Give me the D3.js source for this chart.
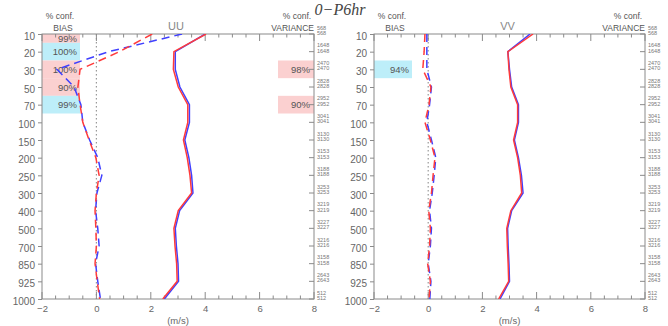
<!DOCTYPE html>
<html><head><meta charset="utf-8">
<script src="https://cdn.jsdelivr.net/npm/d3@7"></script>
<style>body{margin:0;background:#fff}svg{display:block}</style>
</head><body>
<svg id="c" width="668" height="326"></svg>
<script>
const title = "0\u2212P6hr";
const levels = ["10","20","30","50","70","100","150","200","250","300","400","500","700","850","925","1000"];
const countsTop = [568,1648,2470,2828,2952,3041,3130,3153,3188,3253,3219,3227,3216,3158,2643,512];
const countsBot = [568,1648,2470,2828,2952,3041,3130,3153,3188,3253,3219,3227,3216,3158,2643,512];
const xTicks = [-2,0,2,4,6,8];

const uuStdRed  = [4.03,2.85,2.83,3.01,3.36,3.36,3.20,3.34,3.44,3.50,3.01,2.85,2.89,2.95,2.97,2.44];
const uuStdBlue = [4.00,2.90,2.90,3.07,3.42,3.42,3.25,3.40,3.50,3.55,3.06,2.90,2.94,3.00,3.02,2.50];
const uuBiasRed  = [2.05,0.85,-0.60,-0.68,-0.60,-0.50,-0.27,-0.02,0.10,0.00,-0.05,-0.02,0.00,-0.05,0.03,0.12];
const uuBiasBlue = [3.15,0.45,-1.45,-0.82,-0.57,-0.50,-0.25,0.05,0.20,0.02,-0.03,0.05,0.10,-0.03,0.05,0.15];

const vvStdRed  = [3.87,2.94,2.98,3.05,3.30,3.30,3.15,3.30,3.40,3.45,3.05,2.90,2.92,2.95,2.97,2.60];
const vvStdBlue = [3.76,2.94,3.00,3.08,3.33,3.33,3.18,3.33,3.44,3.50,3.08,2.93,2.95,2.98,3.00,2.65];
const vvBiasRed  = [-0.12,-0.15,-0.20,0.10,0.03,-0.12,0.08,0.25,0.18,0.12,0.02,0.08,0.05,-0.02,0.08,0.03];
const vvBiasBlue = [-0.05,-0.05,-0.05,0.12,0.05,-0.05,0.12,0.28,0.22,0.15,0.05,0.12,0.08,0.00,0.10,0.06];

// confidence boxes: level, label, sign
const uuBiasConf = [["10","99%","pos"],["20","100%","neg"],["30","100%","pos"],["50","90%","pos"],["70","99%","neg"]];
const uuVarConf  = [["30","98%","pos"],["70","90%","pos"]];
const vvBiasConf = [["30","94%","neg"]];
const vvVarConf  = [];

const panels = [
  {name:"UU", x0:42, x1:314, stdR:uuStdRed, stdB:uuStdBlue, biasR:uuBiasRed, biasB:uuBiasBlue, bc:uuBiasConf, vc:uuVarConf},
  {name:"VV", x0:374, x1:645, stdR:vvStdRed, stdB:vvStdBlue, biasR:vvBiasRed, biasB:vvBiasBlue, bc:vvBiasConf, vc:vvVarConf}
];

const svg = d3.select("#c");
const yTop = 34, yBot = 299;
const y = d3.scalePoint().domain(levels).range([yTop, yBot]);
const step = y.step();
const fill = {pos:"#fbd0d0", neg:"#bdeef9"};
const axisCol = "#8a8a8a", txtCol = "#666";
const font = "Liberation Sans, Arial, sans-serif";

svg.append("text").attr("x",340).attr("y",15).attr("text-anchor","middle")
  .attr("font-family","Liberation Serif, Times New Roman, serif").attr("font-style","italic")
  .attr("font-size",16).attr("fill","#444").text(title);

panels.forEach(p => {
  const x = d3.scaleLinear().domain([-2,8]).range([p.x0, p.x1]);
  const g = svg.append("g");
  const box = (b, bx, bw, tx) => {
    const yc = y(b[0]);
    const y0 = Math.max(yTop, yc - step/2), y1 = Math.min(yBot, yc + step/2);
    g.append("rect").attr("x",bx).attr("y",y0).attr("width",bw).attr("height",y1-y0).attr("fill",fill[b[2]]);
    g.append("text").attr("x",tx).attr("y",(y0+y1)/2+3.5).attr("text-anchor","end")
      .attr("font-family",font).attr("font-size",9.5).attr("fill","#555").text(b[1]);
  };
  p.bc.forEach(b => box(b, p.x0, 38, p.x0+35));
  p.vc.forEach(b => box(b, p.x1-36, 36, p.x1-4));
  g.append("line").attr("x1",x(0)).attr("x2",x(0)).attr("y1",yTop).attr("y2",yBot)
    .attr("stroke","#999").attr("stroke-width",1.2).attr("stroke-dasharray","1.5,2.5");
  g.append("rect").attr("x",p.x0).attr("y",yTop).attr("width",p.x1-p.x0).attr("height",yBot-yTop)
    .attr("fill","none").attr("stroke",axisCol).attr("stroke-width",1);
  const minor = d3.range(-2,8.01,0.5);
  minor.forEach(v => {
    const isMajor = Math.abs(v/2 - Math.round(v/2)) < 1e-6;
    const len = isMajor ? 7 : 3.5;
    g.append("line").attr("x1",x(v)).attr("x2",x(v)).attr("y1",yBot).attr("y2",yBot-len).attr("stroke",axisCol);
    g.append("line").attr("x1",x(v)).attr("x2",x(v)).attr("y1",yTop).attr("y2",yTop+len).attr("stroke",axisCol);
  });
  const xa = d3.axisBottom(x).tickValues(xTicks).tickSize(0).tickPadding(6)
    .tickFormat(d => d < 0 ? "\u2212" + Math.abs(d) : d);
  const xg = g.append("g").attr("transform",`translate(0,${yBot})`).call(xa);
  xg.select(".domain").remove();
  xg.selectAll("text").attr("font-family",font).attr("font-size",9.5).attr("fill",txtCol);
  g.append("text").attr("x",(p.x0+p.x1)/2).attr("y",324).attr("text-anchor","middle")
    .attr("font-family",font).attr("font-size",9.5).attr("fill",txtCol).text("(m/s)");
  const ya = d3.axisLeft(y).tickSize(4).tickPadding(3);
  const yg = g.append("g").attr("transform",`translate(${p.x0},0)`).call(ya);
  yg.select(".domain").remove();
  yg.selectAll("line").attr("stroke",axisCol);
  yg.selectAll("text").attr("font-family",font).attr("font-size",10).attr("fill",txtCol).attr("dy","0.5em");
  levels.forEach((l,i) => {
    g.append("line").attr("x1",p.x1).attr("x2",p.x1-5).attr("y1",y(l)).attr("y2",y(l)).attr("stroke",axisCol);
    g.append("text").attr("x",p.x1+3).attr("y",y(l)-4.5).attr("font-family",font).attr("font-size",5.5).attr("fill","#777").text(countsTop[i]);
    g.append("text").attr("x",p.x1+3).attr("y",y(l)+1).attr("font-family",font).attr("font-size",5.5).attr("fill","#777").text(countsBot[i]);
  });
  const hdr = (tx, ty, s, anchor) => g.append("text").attr("x",tx).attr("y",ty).attr("text-anchor",anchor)
    .attr("font-family",font).attr("font-size",8.5).attr("fill","#555").text(s);
  hdr(p.x0+18, 19, "% conf.", "middle");
  hdr(p.x0+21, 30.5, "BIAS", "middle");
  hdr(p.x1-17, 19, "% conf.", "middle");
  hdr(p.x1, 30.5, "VARIANCE", "end");
  g.append("text").attr("x",(p.x0+p.x1)/2 - 2).attr("y",30).attr("text-anchor","middle")
    .attr("font-family",font).attr("font-size",11).attr("fill","#888").text(p.name);
  const line = arr => d3.line().x(d=>x(d)).y((d,i)=>y(levels[i]))(arr);
  const clipId = "clip"+p.name;
  svg.append("clipPath").attr("id",clipId).append("rect").attr("x",p.x0).attr("y",yTop).attr("width",p.x1-p.x0).attr("height",yBot-yTop);
  const lg = g.append("g").attr("clip-path",`url(#${clipId})`);
  lg.append("path").attr("d",line(p.biasB)).attr("fill","none").attr("stroke","#4040ff").attr("stroke-width",1.5).attr("stroke-dasharray","8,5");
  lg.append("path").attr("d",line(p.biasR)).attr("fill","none").attr("stroke","#ff3b3b").attr("stroke-width",1.5).attr("stroke-dasharray","8,5");
  lg.append("path").attr("d",line(p.stdB)).attr("fill","none").attr("stroke","#4040ff").attr("stroke-width",1.5);
  lg.append("path").attr("d",line(p.stdR)).attr("fill","none").attr("stroke","#ff3b3b").attr("stroke-width",1.5);
});
</script>
</body></html>
